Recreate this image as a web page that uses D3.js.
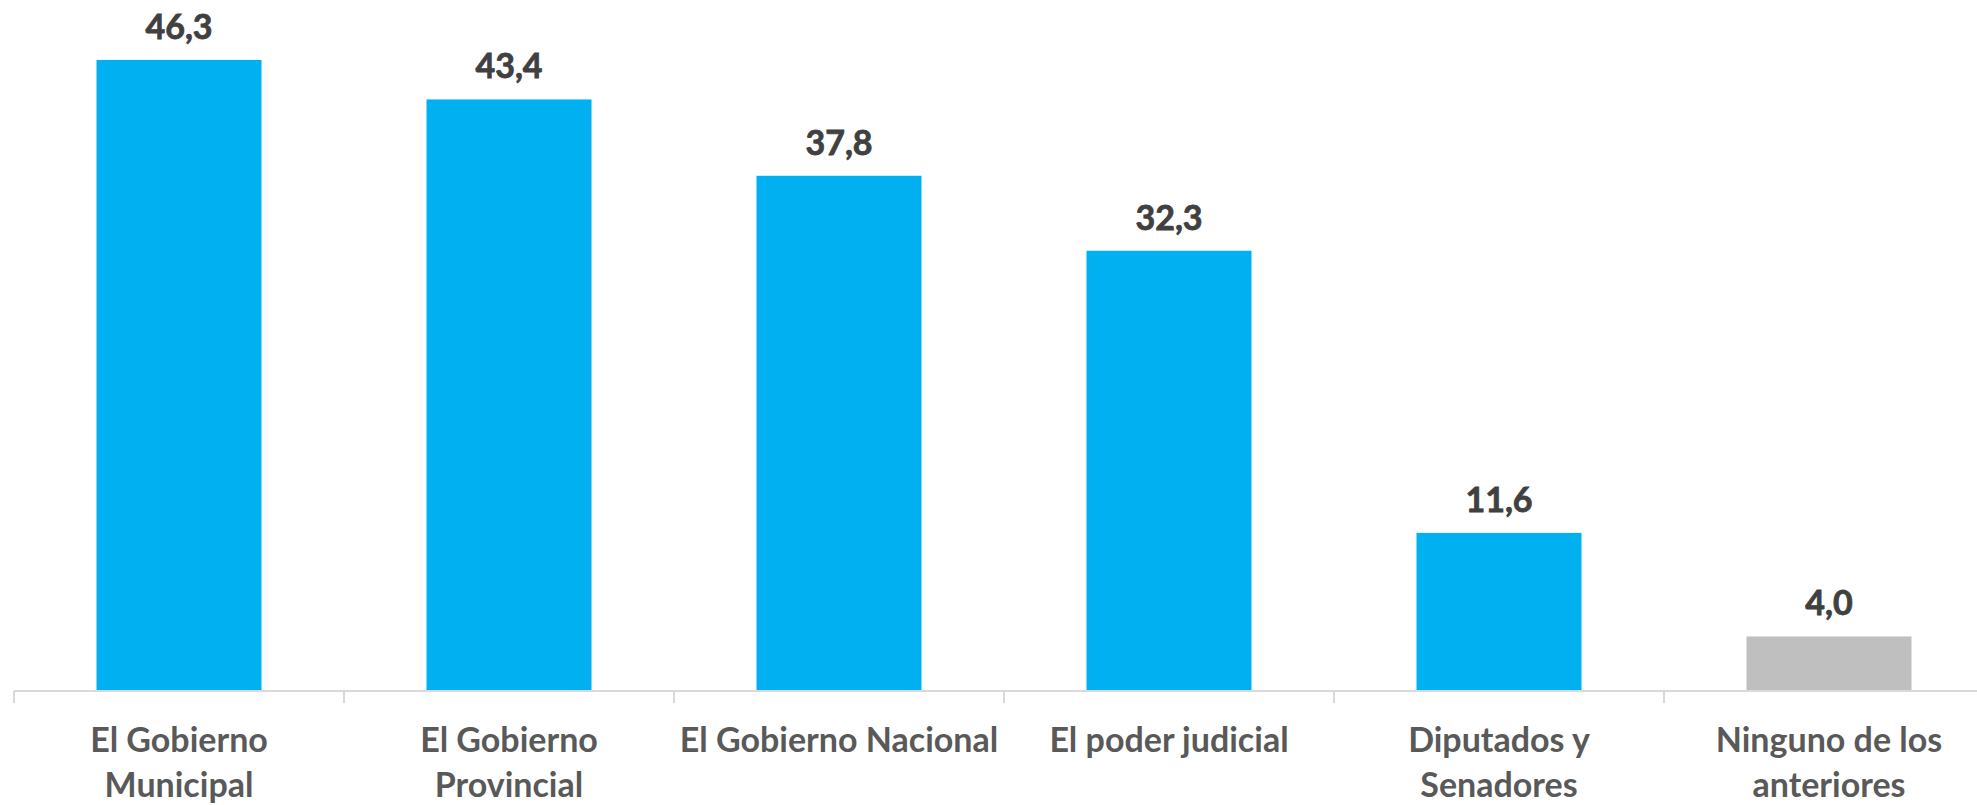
<!DOCTYPE html>
<html>
<head>
<meta charset="utf-8">
<script src="https://cdn.jsdelivr.net/npm/d3@7"></script>
<style>
  html, body { margin: 0; padding: 0; background: #ffffff; }
  svg { display: block; }
  text { font-family: Lato, "Open Sans", sans-serif; font-weight: bold; }
</style>
</head>
<body>
<svg id="chart" width="1977" height="805"></svg>
<script>
const categories = [
  ["El Gobierno", "Municipal"],
  ["El Gobierno", "Provincial"],
  ["El Gobierno Nacional"],
  ["El poder judicial"],
  ["Diputados y", "Senadores"],
  ["Ninguno de los", "anteriores"]
];
const values = [46.3, 43.4, 37.8, 32.3, 11.6, 4.0];
const valueLabels = ["46,3", "43,4", "37,8", "32,3", "11,6", "4,0"];
const barColors = ["#00B0F0", "#00B0F0", "#00B0F0", "#00B0F0", "#00B0F0", "#BFBFBF"];

const svg = d3.select("#chart");
const left = 14, step = 330;
const axisY = 691;

const x = d3.scaleBand()
  .domain(d3.range(values.length))
  .range([left, left + step * values.length])
  .paddingInner(0.5)
  .paddingOuter(0.25);

const y = d3.scaleLinear().domain([0, 50]).range([axisY, axisY - 50 * 13.63]);

// bars
svg.append("g").selectAll("rect")
  .data(values)
  .join("rect")
  .attr("x", (d, i) => x(i))
  .attr("width", x.bandwidth())
  .attr("y", d => y(d))
  .attr("height", d => y(0) - y(d))
  .attr("fill", (d, i) => barColors[i]);

// axis
const ax = svg.append("g");
ax.append("line")
  .attr("x1", left).attr("x2", left + step * values.length)
  .attr("y1", axisY).attr("y2", axisY)
  .attr("stroke", "#D9D9D9").attr("stroke-width", 2);
ax.selectAll("line.tick")
  .data(d3.range(values.length + 1))
  .join("line")
  .attr("class", "tick")
  .attr("x1", i => left + step * i).attr("x2", i => left + step * i)
  .attr("y1", axisY).attr("y2", axisY + 12)
  .attr("stroke", "#D9D9D9").attr("stroke-width", 2);

// value labels
svg.append("g").selectAll("text")
  .data(values)
  .join("text")
  .attr("x", (d, i) => x(i) + x.bandwidth() / 2)
  .attr("y", d => y(d) - 21)
  .attr("text-anchor", "middle")
  .attr("fill", "#404040")
  .attr("stroke", "#404040")
  .attr("stroke-width", 0.8)
  .attr("font-size", 34)
  .text((d, i) => valueLabels[i]);

// category labels
const cl = svg.append("g").selectAll("text")
  .data(categories)
  .join("text")
  .attr("x", (d, i) => x(i) + x.bandwidth() / 2)
  .attr("y", 752)
  .attr("text-anchor", "middle")
  .attr("fill", "#595959")
  .attr("font-size", 34);
cl.selectAll("tspan")
  .data(d => d)
  .join("tspan")
  .attr("x", function() { return d3.select(this.parentNode).attr("x"); })
  .attr("dy", (d, j) => j === 0 ? 0 : 45)
  .text(d => d);
</script>
</body>
</html>
